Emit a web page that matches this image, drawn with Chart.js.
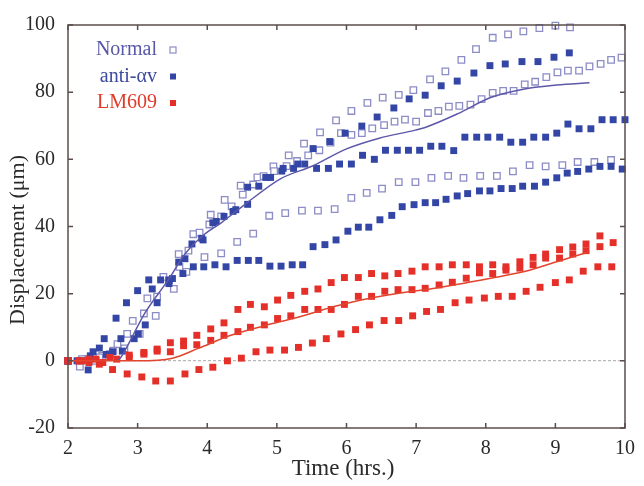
<!DOCTYPE html>
<html>
<head>
<meta charset="utf-8">
<script src="https://cdn.jsdelivr.net/npm/chart.js@4.4.0/dist/chart.umd.min.js"></script>
<style>
  html, body { margin: 0; padding: 0; background: #fff; }
</style>
</head>
<body>
<canvas id="myChart" width="644" height="486"></canvas>
<script>
// tick labels
var xTicks = [2, 3, 4, 5, 6, 7, 8, 9, 10];
var yTicks = [-20, 0, 20, 40, 60, 80, 100];

// Normal (open squares), three cells
var normalTopT = [2.0, 2.26, 2.49, 2.71, 2.93, 3.14, 3.37, 3.59, 3.8, 4.05, 4.25, 4.48, 4.72, 4.95, 5.17, 5.39, 5.62, 5.85, 6.07, 6.3, 6.52, 6.75, 6.96, 7.2, 7.42, 7.65, 7.86, 8.1, 8.32, 8.54, 8.77, 9.0, 9.21];
var normalTopV = [0, 0.5, 1.5, 5, 11.9, 18.6, 25, 31.8, 37.7, 43.5, 47.9, 52.2, 54.6, 57.9, 61.2, 64.7, 68.0, 71.6, 74.4, 76.8, 78.4, 79.2, 80.6, 83.8, 86.2, 89.6, 92.8, 96.2, 97.2, 98.1, 99.1, 99.8, 99.3];
var normalMidT = [2.0, 2.2, 2.45, 2.65, 2.85, 3.09, 3.28, 3.45, 3.6, 3.73, 3.89, 4.03, 4.2, 4.35, 4.51, 4.66, 4.81, 4.96, 5.14, 5.29, 5.45, 5.61, 5.77, 5.92, 6.07, 6.22, 6.37, 6.54, 6.69, 6.84, 7.0, 7.17, 7.32, 7.47, 7.62, 7.78, 7.94, 8.1, 8.25, 8.4, 8.56, 8.71, 8.87, 9.03, 9.18, 9.34, 9.49, 9.65, 9.8, 9.95];
var normalMidV = [0, 0.5, 1, 3, 8, 14.1, 19.1, 24, 28, 32.8, 38.2, 40.6, 43.0, 46, 49.5, 52.5, 55.0, 56.5, 58.0, 59.5, 61.2, 62.7, 65, 67.8, 67.3, 67.8, 69.2, 70.2, 71.2, 71.8, 71.2, 73.8, 74.4, 75.7, 75.9, 76.3, 77.9, 79.8, 80.4, 80.4, 82.3, 83.1, 84.5, 85.9, 86.4, 86.4, 87.7, 88.4, 89.6, 90.3];
var normalLowT = [2.0, 2.17, 2.4, 2.6, 2.81, 3.03, 3.26, 3.52, 3.7, 3.96, 4.2, 4.43, 4.66, 4.89, 5.12, 5.36, 5.59, 5.83, 6.07, 6.29, 6.51, 6.75, 6.99, 7.22, 7.46, 7.68, 7.92, 8.16, 8.39, 8.63, 8.86, 9.1, 9.32, 9.56, 9.8];
var normalLowV = [0, -1.7, 0, 2, 3.7, 8, 13.4, 21.4, 26.5, 30.9, 32.0, 35.4, 37.9, 43.2, 44.0, 44.7, 44.7, 45.2, 48.5, 50.0, 51.3, 53.2, 53.2, 54.5, 55.1, 54.5, 55.1, 55.1, 56.4, 58.3, 57.9, 58.3, 59.2, 59.2, 59.8];

// anti-av (filled blue squares)
var antiTopT = [2.0, 2.32, 2.55, 2.76, 3.01, 3.21, 3.45, 3.68, 3.92, 4.13, 4.37, 4.58, 4.84, 5.09, 5.3, 5.52, 5.76, 5.98, 6.22, 6.44, 6.68, 6.9, 7.13, 7.36, 7.59, 7.83, 8.06, 8.28, 8.52, 8.75, 8.98, 9.2];
var antiTopV = [0, 1.5, 1.9, 6.6, 8.0, 21.4, 24, 30.4, 36.5, 41.5, 44.5, 51.7, 54.6, 57.3, 58.6, 63.2, 65.3, 67.8, 69.9, 72.6, 75.3, 78.0, 79.1, 81.9, 83.3, 85.7, 87.9, 88.4, 89.1, 89.1, 90.4, 91.7];
var antiMidT = [2.0, 2.13, 2.29, 2.45, 2.64, 2.78, 2.95, 3.11, 3.28, 3.45, 3.59, 3.78, 3.94, 4.08, 4.24, 4.41, 4.58, 4.74, 4.91, 5.07, 5.24, 5.4, 5.57, 5.74, 5.9, 6.07, 6.23, 6.4, 6.56, 6.73, 6.89, 7.05, 7.21, 7.37, 7.54, 7.7, 7.87, 8.03, 8.2, 8.36, 8.53, 8.69, 8.86, 9.02, 9.18, 9.34, 9.51, 9.67, 9.83, 10.0];
var antiMidV = [0, 0, -2.7, 3.8, 2.7, 2.9, 6.6, 10.7, 17.3, 23, 29.4, 34.8, 36, 41.1, 43, 45, 46.6, 52.0, 54.6, 56.5, 57.3, 58.6, 57.3, 57.3, 58.6, 58.6, 61.2, 60.0, 62.7, 62.7, 62.7, 62.7, 63.9, 63.9, 62.6, 66.6, 66.6, 66.6, 66.6, 65.1, 65.1, 66.6, 66.6, 67.8, 70.5, 69.1, 69.1, 71.8, 71.8, 71.8];
var antiLowT = [2.0, 2.2, 2.36, 2.52, 2.69, 2.84, 3.0, 3.16, 3.33, 3.5, 3.65, 3.8, 3.95, 4.11, 4.27, 4.43, 4.59, 4.74, 4.9, 5.06, 5.22, 5.37, 5.52, 5.69, 5.85, 6.02, 6.17, 6.32, 6.48, 6.65, 6.8, 6.97, 7.13, 7.28, 7.43, 7.59, 7.74, 7.91, 8.06, 8.22, 8.38, 8.53, 8.7, 8.86, 9.02, 9.17, 9.32, 9.48, 9.64, 9.8, 9.96];
var antiLowV = [0, 0, 2.7, 6.6, 12.7, 17.3, 20.9, 24.1, 24.1, 24.5, 26, 28.0, 28.0, 28.6, 28.0, 29.9, 29.9, 29.9, 28.2, 28.2, 28.6, 28.6, 34.0, 34.6, 36.0, 38.6, 39.8, 39.8, 42.0, 43.3, 45.9, 46.5, 47.1, 47.1, 48.1, 49.1, 49.8, 50.6, 50.6, 51.3, 51.3, 52.0, 52.0, 53.2, 54.5, 55.9, 56.4, 57.1, 57.9, 57.9, 57.1];

// LM609 (filled red squares)
var lmTopT = [2.0, 2.2, 2.4, 2.6, 2.88, 3.09, 3.28, 3.47, 3.66, 3.85, 4.05, 4.24, 4.44, 4.62, 4.82, 5.01, 5.2, 5.4, 5.59, 5.78, 5.97, 6.17, 6.36, 6.55, 6.74, 6.94, 7.13, 7.33, 7.52, 7.72, 7.91, 8.1, 8.29, 8.49, 8.68, 8.86, 9.06, 9.25, 9.44, 9.64];
var lmTopV = [0, 0, 0.5, 1.0, 1.7, 2.5, 3.5, 5.4, 5.9, 7.6, 9.5, 11.3, 15.3, 16.8, 16.1, 18.1, 19.5, 20.7, 21.4, 23.3, 24.8, 24.8, 26.0, 25.3, 26.0, 26.7, 28.0, 28.0, 28.6, 28.6, 28.0, 28.6, 28.0, 29.5, 30.8, 31.8, 33.1, 33.9, 34.8, 37.2];
var lmMidT = [2.0, 2.15, 2.3, 2.5, 2.7, 2.88, 3.09, 3.28, 3.47, 3.66, 3.85, 4.05, 4.24, 4.44, 4.62, 4.82, 5.01, 5.2, 5.4, 5.59, 5.78, 5.97, 6.17, 6.36, 6.55, 6.74, 6.94, 7.13, 7.33, 7.52, 7.72, 7.91, 8.1, 8.29, 8.49, 8.68, 8.86, 9.06, 9.25, 9.44, 9.64, 9.83];
var lmMidV = [0, 0, 0.5, -0.5, 0.5, 1.0, 2.0, 2.9, 2.7, 4.5, 4.8, 6.1, 7.6, 8.7, 10.0, 10.7, 12.6, 13.4, 15.3, 15.3, 15.3, 16.8, 19.2, 19.2, 20.7, 21.2, 21.2, 21.6, 22.6, 23.4, 24.6, 26.2, 26.0, 27.0, 27.6, 28.6, 30.6, 30.6, 31.8, 32.8, 34.0, 35.2];
var lmLowT = [2.0, 2.15, 2.3, 2.45, 2.64, 2.85, 3.06, 3.26, 3.47, 3.68, 3.88, 4.08, 4.29, 4.49, 4.7, 4.9, 5.11, 5.31, 5.51, 5.71, 5.92, 6.13, 6.33, 6.54, 6.75, 6.95, 7.15, 7.35, 7.56, 7.76, 7.98, 8.18, 8.38, 8.58, 8.78, 9.0, 9.2, 9.4, 9.61, 9.81];
var lmLowV = [0, 0, -0.5, -1, -2.6, -3.9, -4.8, -6.0, -6.0, -3.9, -2.6, -1.9, 0, 0.8, 2.7, 3.2, 3.2, 4.0, 5.3, 6.6, 8.0, 9.3, 10.7, 12.0, 12.0, 13.4, 14.7, 15.3, 17.3, 18.1, 18.7, 19.2, 19.2, 20.7, 21.9, 23.3, 24.1, 26.7, 28.0, 28.0];

// mean curves
var normalFitT = [2.72, 2.78, 3.11, 3.44, 3.68, 3.96, 4.2, 4.58, 5.05, 5.52, 6.0, 6.47, 6.99, 7.13, 7.6, 8.07, 8.54, 9.02, 9.49];
var normalFitV = [0, 1.7, 14.4, 24.1, 31.8, 37.7, 41.1, 47.2, 54.2, 58.1, 63.1, 66.3, 68.7, 69.5, 73.6, 78.4, 80.9, 82.1, 82.8];
var lmFitT = [2.0, 2.5, 3.0, 3.5, 3.87, 4.34, 4.81, 5.29, 5.85, 6.23, 6.94, 7.13, 7.6, 8.07, 8.54, 9.02, 9.49];
var lmFitV = [0, 0, 0, 0.8, 3.7, 7.6, 10.4, 12.9, 16.3, 18.2, 20.7, 21.2, 22.8, 24.6, 26.5, 29.5, 32.5];

function pts(t, v) {
    return t.map(function (x, i) { return { x: x, y: v[i] }; });
}

var openColor = '#8c8cc6';
var blueColor = '#3346a5';
var redColor = '#e5302a';
var serif = '"Liberation Serif", "DejaVu Serif", serif';

function openSet(t, v) {
    return { data: pts(t, v), showLine: false, pointStyle: 'rect', pointRadius: 4.6,
        pointBorderWidth: 1.3, pointBorderColor: openColor, pointBackgroundColor: '#fff', clip: 8 };
}
function fillSet(t, v, c) {
    return { data: pts(t, v), showLine: false, pointStyle: 'rect', pointRadius: 4.9,
        pointBorderWidth: 0, pointBorderColor: c, pointBackgroundColor: c, clip: 8 };
}
function lineSet(t, v, c) {
    return { data: pts(t, v), showLine: true, borderColor: c, borderWidth: 1.5, pointRadius: 0,
        cubicInterpolationMode: 'monotone', fill: false };
}

// frame, inward ticks, axis titles and legend
var framePlugin = {
    id: 'framePlugin',
    afterDraw: function (chart) {
        var ctx = chart.ctx, a = chart.chartArea, xs = chart.scales.x, ys = chart.scales.y;
        ctx.save();
        ctx.strokeStyle = '#5b4d4b';
        ctx.lineWidth = 1.5;
        ctx.strokeRect(a.left, a.top, a.right - a.left, a.bottom - a.top);
        ctx.beginPath();
        xTicks.forEach(function (v) {
            var px = xs.getPixelForValue(v);
            ctx.moveTo(px, a.bottom); ctx.lineTo(px, a.bottom - 5);
            ctx.moveTo(px, a.top); ctx.lineTo(px, a.top + 5);
        });
        yTicks.forEach(function (v) {
            var py = ys.getPixelForValue(v);
            ctx.moveTo(a.left, py); ctx.lineTo(a.left + 5, py);
            ctx.moveTo(a.right, py); ctx.lineTo(a.right - 5, py);
        });
        ctx.stroke();

        // axis titles
        ctx.fillStyle = '#2a2a2a';
        ctx.font = '23px ' + serif;
        ctx.textAlign = 'center';
        ctx.textBaseline = 'middle';
        ctx.fillText('Time (hrs.)', 343, 469);
        ctx.font = '22px ' + serif;
        ctx.save();
        ctx.translate(18, 240);
        ctx.rotate(-Math.PI / 2);
        ctx.fillText('Displacement (\u03bcm)', 0, 0);
        ctx.restore();

        var items = [
            { text: 'Normal', color: '#5858a8', mark: 'open' },
            { text: 'anti-\u03b1v', color: '#3c4aa0', mark: blueColor },
            { text: 'LM609', color: '#e03a2a', mark: redColor }
        ];
        ctx.font = '20px ' + serif;
        ctx.textAlign = 'right';
        ctx.textBaseline = 'middle';
        items.forEach(function (it, i) {
            var y = 50 + i * 26.5;
            ctx.fillStyle = it.color;
            ctx.fillText(it.text, 157, y);
            if (it.mark === 'open') {
                ctx.fillStyle = '#fff';
                ctx.strokeStyle = openColor;
                ctx.lineWidth = 1.2;
                ctx.fillRect(170, y - 3, 6, 6);
                ctx.strokeRect(170, y - 3, 6, 6);
            } else {
                ctx.fillStyle = it.mark;
                ctx.fillRect(170, y - 3, 6, 6);
            }
        });
        ctx.restore();
    }
};

var ctx = document.getElementById('myChart').getContext('2d');

var myChart = new Chart(ctx, {
    type: 'scatter',
    data: {
        datasets: [
            lineSet(lmFitT, lmFitV, '#e2442e'),
            lineSet(normalFitT, normalFitV, '#5d58a8'),
            fillSet(lmLowT, lmLowV, redColor),
            fillSet(lmMidT, lmMidV, redColor),
            fillSet(lmTopT, lmTopV, redColor),
            fillSet(antiLowT, antiLowV, blueColor),
            fillSet(antiMidT, antiMidV, blueColor),
            fillSet(antiTopT, antiTopV, blueColor),
            openSet(normalLowT, normalLowV),
            openSet(normalMidT, normalMidV),
            openSet(normalTopT, normalTopV)
        ]
    },
    options: {
        responsive: false,
        animation: false,
        layout: { padding: { top: 16, right: 12, left: 0, bottom: 0 } },
        plugins: { legend: { display: false }, tooltip: { enabled: false } },
        scales: {
            x: {
                type: 'linear', min: 2, max: 10,
                afterFit: function (s) { s.height = 58; },
                afterBuildTicks: function (s) { s.ticks = xTicks.map(function (v) { return { value: v }; }); },
                grid: { display: false, drawTicks: false },
                border: { display: false },
                ticks: { padding: 9, color: '#2a2a2a', font: { family: serif, size: 20 } }
            },
            y: {
                min: -20, max: 100,
                afterFit: function (s) { s.width = 68; },
                afterBuildTicks: function (s) { s.ticks = yTicks.map(function (v) { return { value: v }; }); },
                grid: {
                    drawTicks: false,
                    color: function (c) { return c.tick && c.tick.value === 0 ? '#b9b9b9' : 'rgba(0,0,0,0)'; },
                    lineWidth: 1.2
                },
                border: { display: false, dash: [3, 2] },
                ticks: { padding: 13, color: '#2a2a2a', font: { family: serif, size: 20 } }
            }
        }
    },
    plugins: [framePlugin]
});
</script>
</body>
</html>
